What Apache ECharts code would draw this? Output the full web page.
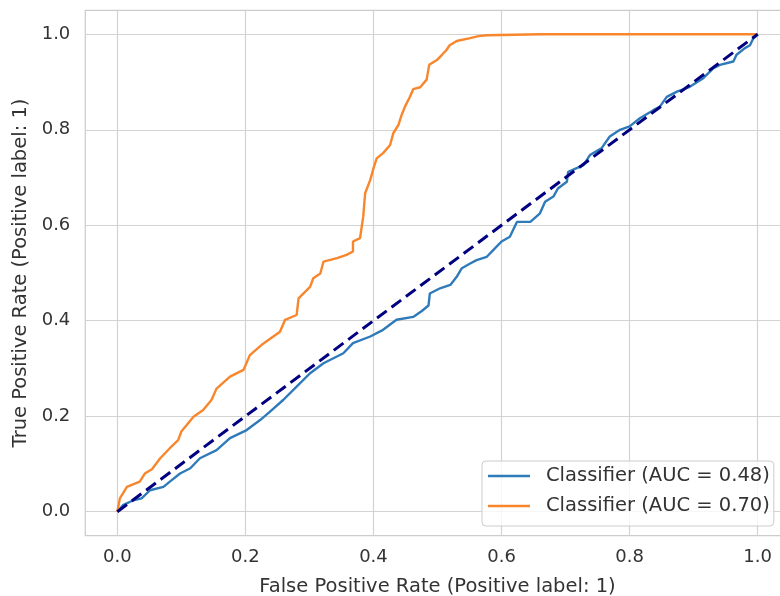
<!DOCTYPE html>
<html>
<head>
<meta charset="utf-8">
<script src="https://cdn.jsdelivr.net/npm/echarts@6/dist/echarts.min.js"></script>
<style>
html,body{margin:0;padding:0;background:#fff;}
#chart{width:780px;height:596px;}
</style>
</head>
<body>
<div id="chart"></div>
<script>
// Tick values
var xTicks = [0, 0.2, 0.4, 0.6, 0.8, 1.0];
var yTicks = [0, 0.2, 0.4, 0.6, 0.8, 1.0];

// Series names
var seriesNames = ['Classifier (AUC = 0.48)', 'Classifier (AUC = 0.70)'];

// Classifier A (AUC = 0.48)
var fprBlue = [0, .009, .025, .038, .051, .072, .082, .098, .114, .129, .155, .176, .202, .223, .238, .259, .280, .301, .322, .353, .368, .395, .415, .436, .462, .475, .486, .488, .504, .520, .530, .538, .551, .561, .577, .590, .600, .613, .624, .645, .660, .668, .681, .688, .702, .704, .728, .738, .756, .769, .785, .800, .816, .837, .847, .858, .874, .894, .915, .931, .941, .962, .967, .980, .988, .993, 1.0];
var tprBlue = [0, .014, .024, .028, .045, .052, .063, .080, .091, .112, .129, .154, .171, .192, .209, .234, .262, .290, .311, .332, .353, .367, .381, .402, .408, .420, .432, .457, .468, .475, .492, .510, .520, .527, .534, .552, .566, .576, .607, .607, .625, .649, .660, .677, .691, .712, .726, .747, .761, .786, .800, .807, .824, .841, .848, .869, .880, .890, .908, .929, .936, .943, .957, .971, .977, .991, 1.0];

// Classifier B (AUC = 0.70)
var fprOrange = [0, .004, .015, .035, .043, .054, .067, .082, .095, .100, .119, .134, .147, .155, .176, .197, .207, .225, .254, .262, .280, .283, .301, .306, .317, .322, .343, .358, .368, .368, .379, .384, .387, .395, .400, .405, .415, .426, .431, .439, .444, .449, .457, .462, .473, .483, .487, .499, .507, .514, .519, .530, .551, .564, .577, .660, 1.0];
var tprOrange = [0, .028, .052, .063, .080, .089, .112, .133, .150, .168, .199, .213, .234, .258, .283, .297, .328, .349, .377, .402, .412, .447, .471, .489, .499, .524, .531, .538, .545, .566, .573, .618, .667, .695, .719, .740, .751, .768, .793, .810, .831, .848, .869, .885, .889, .905, .936, .946, .957, .967, .977, .986, .992, .996, .998, 1.0, 1.0];

// Chance line
var chanceX = [0, 1];
var chanceY = [0, 1];

function zip(a, b) { return a.map(function (v, i) { return [v, b[i]]; }); }

var FONT = 'DejaVu Sans';
var TXT = '#333333';
var GRIDC = '#d3d3d3';

var chart = echarts.init(document.getElementById('chart'), null, {renderer: 'canvas'});
chart.setOption({
  animation: false,
  backgroundColor: '#ffffff',
  textStyle: {fontFamily: FONT},
  grid: {
    left: 85.3, top: 10.4, width: 704.4, height: 525.2,
    containLabel: false, outerBoundsMode: 'none',
    show: true, borderColor: '#cccccc', borderWidth: 1.25, backgroundColor: 'transparent'
  },
  legend: {
    data: seriesNames,
    orient: 'vertical',
    left: 482, top: 461,
    padding: [5, 4, 10, 6],
    itemWidth: 42, itemHeight: 2.5,
    itemGap: 10,
    icon: 'rect',
    backgroundColor: 'rgba(255,255,255,0.8)',
    borderColor: '#cccccc', borderWidth: 1, borderRadius: 4,
    textStyle: {fontFamily: FONT, fontSize: 19.5, lineHeight: 20, color: TXT, padding: [0, 0, 0, 11]}
  },
  xAxis: {
    type: 'value', min: -0.05, max: 1.05,
    name: 'False Positive Rate (Positive label: 1)',
    nameLocation: 'middle', nameGap: 41,
    nameTextStyle: {fontFamily: FONT, fontSize: 19.5, color: TXT},
    axisLine: {show: false},
    axisTick: {show: false, customValues: xTicks},
    axisLabel: {customValues: xTicks, fontFamily: FONT, fontSize: 18, color: TXT, margin: 13,
      formatter: function (v) { return v.toFixed(1); }},
    splitLine: {show: true, lineStyle: {color: GRIDC, width: 1.2}}
  },
  yAxis: {
    type: 'value', min: -0.05, max: 1.05,
    name: 'True Positive Rate (Positive label: 1)',
    nameLocation: 'middle', nameGap: 52, nameRotate: 90,
    nameTextStyle: {fontFamily: FONT, fontSize: 19.5, color: TXT},
    axisLine: {show: false},
    axisTick: {show: false, customValues: yTicks},
    axisLabel: {customValues: yTicks, fontFamily: FONT, fontSize: 18, color: TXT, margin: 15,
      formatter: function (v) { return v.toFixed(1); }},
    splitLine: {show: true, lineStyle: {color: GRIDC, width: 1.2}}
  },
  series: [
    {
      name: seriesNames[0], type: 'line', data: zip(fprBlue, tprBlue),
      showSymbol: false, symbol: 'none', color: '#2f7bba',
      lineStyle: {color: '#2f7bba', width: 2.4}, z: 2
    },
    {
      name: seriesNames[1], type: 'line', data: zip(fprOrange, tprOrange),
      showSymbol: false, symbol: 'none', color: '#f8862c',
      lineStyle: {color: '#f8862c', width: 2.4}, z: 3
    },
    {
      name: 'chance', type: 'line', data: zip(chanceX, chanceY),
      showSymbol: false, symbol: 'none', color: '#000080',
      lineStyle: {color: '#000080', width: 3, type: [12, 6]}, z: 4
    }
  ]
});
</script>
</body>
</html>
